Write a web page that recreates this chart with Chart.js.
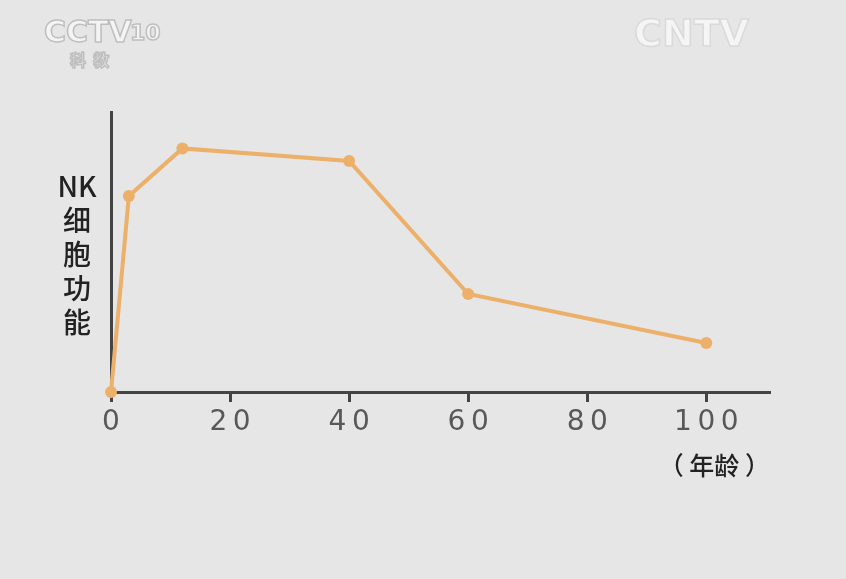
<!DOCTYPE html>
<html>
<head>
<meta charset="utf-8">
<script src="https://cdn.jsdelivr.net/npm/chart.js@4"></script>
<style>
  html, body { margin: 0; padding: 0; background: #e6e6e6; }
  #wrap { width: 846px; height: 579px; }
</style>
</head>
<body>
<div id="wrap"><canvas id="myChart" width="846" height="579"></canvas></div>
<script>
"use strict";

// NK cell function vs age (y in relative units 0-100)
const ages = [0, 3, 12, 40, 60, 100];
const nkFunction = [0, 70, 87, 82.5, 35, 17.5];
const xTicks = [0, 20, 40, 60, 80, 100];
const yTitle = ["NK", "细", "胞", "功", "能"];
const xTitle = "（ 年龄 ）";

const lineColor = "rgb(236, 176, 106)";
const axisColor = "#444";

const points = ages.map((a, i) => ({ x: a, y: nkFunction[i] }));

// background, watermarks and the stacked y title
const decorPlugin = {
  id: "decor",
  beforeDraw(chart) {
    const ctx = chart.ctx;
    ctx.save();
    ctx.fillStyle = "#e6e6e6";
    ctx.fillRect(0, 0, chart.width, chart.height);

    ctx.font = "bold 30px 'DejaVu Sans'";
    ctx.lineWidth = 1.5;
    ctx.strokeStyle = "rgba(185,185,185,0.9)";
    ctx.fillStyle = "rgba(245,245,245,0.9)";
    ctx.textBaseline = "alphabetic";
    ctx.fillText("CCTV", 44, 42);
    ctx.strokeText("CCTV", 44, 42);
    ctx.font = "bold 22px 'DejaVu Sans'";
    ctx.fillText("10", 130, 40);
    ctx.strokeText("10", 130, 40);
    ctx.font = "bold 16px 'Noto Sans CJK SC'";
    ctx.fillText("科  教", 70, 66);
    ctx.strokeText("科  教", 70, 66);

    ctx.font = "bold 38px 'DejaVu Sans'";
    ctx.fillStyle = "rgba(246,246,246,0.9)";
    ctx.strokeStyle = "rgba(215,215,215,0.9)";
    ctx.fillText("CNTV", 634, 46);
    ctx.strokeText("CNTV", 634, 46);
    ctx.restore();
  },
  afterDraw(chart) {
    const ctx = chart.ctx;
    ctx.save();
    ctx.fillStyle = "#222";
    ctx.textAlign = "center";
    ctx.textBaseline = "middle";
    ctx.font = "500 28px 'Noto Sans CJK SC'";
    const y = 186;
    yTitle.forEach((t, i) => {
      ctx.fillText(t, 77, y + i * 34);
    });
    ctx.restore();
  }
};

const config = {
  type: "line",
  data: {
    datasets: [{
      data: points,
      borderColor: lineColor,
      backgroundColor: lineColor,
      borderWidth: 4,
      pointRadius: 6,
      pointHoverRadius: 6,
      pointBorderWidth: 0,
      tension: 0,
      clip: false
    }]
  },
  options: {
    responsive: false,
    animation: false,
    layout: { padding: { left: 0, top: 112, right: 76, bottom: 579 - 392 - 88 } },
    plugins: {
      legend: { display: false },
      tooltip: { enabled: false }
    },
    scales: {
      x: {
        type: "linear",
        min: 0,
        max: 110.7,
        afterBuildTicks(scale) {
          scale.ticks = xTicks.map(v => ({ value: v }));
        },
        afterFit(scale) { scale.height = 88; },
        border: { display: true, color: axisColor, width: 3 },
        grid: {
          drawOnChartArea: false,
          drawTicks: true,
          tickLength: 10,
          tickColor: axisColor,
          tickWidth: 3
        },
        ticks: {
          color: "#585858",
          padding: 4,
          font: { family: "'DejaVu Sans'", size: 28 },
          callback: v => String(v).split("").join("\u2009")
        },
        title: {
          display: true,
          text: xTitle,
          align: "end",
          color: "#222",
          font: { family: "'Noto Sans CJK SC'", size: 25, weight: "500" },
          padding: { top: 0, bottom: 0 }
        }
      },
      y: {
        min: 0,
        max: 100,
        afterFit(scale) { scale.width = 111; },
        border: { display: true, color: axisColor, width: 3 },
        grid: { display: false },
        ticks: { display: false }
      }
    }
  },
  plugins: [decorPlugin]
};

new Chart(document.getElementById("myChart"), config);
</script>
</body>
</html>
